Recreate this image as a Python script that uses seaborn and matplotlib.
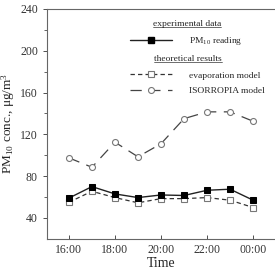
import pandas as pd
import matplotlib.pyplot as plt
import seaborn as sns
from matplotlib.lines import Line2D

# hourly values, 16:00 -> 00:00 (24 = midnight)
hours = [16, 17, 18, 19, 20, 21, 22, 23, 24]
pm10_reading = [59, 70, 63, 59.5, 62, 61.5, 66.5, 67.5, 57]
evaporation_model = [55, 65.5, 59.5, 54.5, 58.5, 58.5, 59.5, 57, 50]
isorropia_model = [97.5, 88.5, 112.5, 98.5, 111, 135, 141.5, 141.5, 132.5]

xtick_pos = [16, 18, 20, 22, 24]
xtick_labels = ["16:00", "18:00", "20:00", "22:00", "00:00"]

df = pd.DataFrame({"hour": hours, "pm10": pm10_reading,
                   "evap": evaporation_model, "iso": isorropia_model})

sns.set_style("ticks")
plt.rcParams['font.family'] = ['Liberation Serif', 'DejaVu Serif']
plt.rcParams['mathtext.fontset'] = 'custom'
plt.rcParams['mathtext.rm'] = 'Liberation Serif'
plt.rcParams['mathtext.it'] = 'Liberation Serif:italic'

fig = plt.figure(figsize=(2.75, 2.69), dpi=100)
ax = fig.add_axes([0.171, 0.112, 0.829, 0.855])

line_col = "#222222"
grey = "#777777"

sns.lineplot(data=df, x="hour", y="iso", ax=ax, color="#444444", lw=0.9,
             linestyle=(0, (9, 6)), marker="o", markersize=4.3,
             markerfacecolor="white", markeredgecolor=grey, markeredgewidth=0.8)
sns.lineplot(data=df, x="hour", y="evap", ax=ax, color="#333333", lw=0.9,
             linestyle=(0, (3.5, 2.5)), marker="s", markersize=4,
             markerfacecolor="white", markeredgecolor=grey, markeredgewidth=0.8)
sns.lineplot(data=df, x="hour", y="pm10", ax=ax, color=line_col, lw=1.0,
             marker="s", markersize=4.6, markerfacecolor="black",
             markeredgecolor="black")

ax.set_xlim(15.05, 24.95)
ax.set_ylim(20, 240)
ax.set_xticks(xtick_pos)
ax.set_xticklabels(xtick_labels)
ax.set_yticks([40, 80, 120, 160, 200, 240])
ax.set_yticks([60, 100, 140, 180, 220], minor=True)
ax.tick_params(axis='both', labelsize=8.5, colors="#333333", length=3, width=0.6)
ax.tick_params(axis='x', direction='in')
ax.tick_params(axis='y', which='minor', length=2, width=0.5)

for side in ['left', 'bottom', 'top']:
    ax.spines[side].set_color("#666666")
    ax.spines[side].set_linewidth(0.8)
ax.spines['right'].set_visible(False)

ax.set_xlabel("Time", fontsize=10, labelpad=1)
ax.set_ylabel(r"PM$_{10}$ conc., μg/m$^3$", fontsize=9.5, labelpad=2)

# legend: headers + two blocks
fs = 6.8
h_pm = Line2D([], [], color=line_col, lw=1.0, marker="s", markersize=4.6,
              markerfacecolor="black", markeredgecolor="black")
h_ev = Line2D([], [], color="#333333", lw=0.9, linestyle=(0, (3.5, 2.5)),
              marker="s", markersize=4, markerfacecolor="white",
              markeredgecolor=grey, markeredgewidth=0.8)
h_is = Line2D([], [], color="#444444", lw=0.9, linestyle=(0, (9, 6)),
              marker="o", markersize=4.3, markerfacecolor="white",
              markeredgecolor=grey, markeredgewidth=0.8)

leg1 = ax.legend([h_pm], [r"PM$_{10}$ reading"], loc="center left",
                 bbox_to_anchor=(0.364, 0.861), frameon=False, fontsize=fs,
                 handlelength=4.4, handletextpad=1.8, borderpad=0, borderaxespad=0)
ax.add_artist(leg1)
ax.legend([h_ev, h_is], ["evaporation model", "ISORROPIA model"], loc="center left",
          bbox_to_anchor=(0.364, 0.678), frameon=False, fontsize=fs,
          handlelength=4.4, handletextpad=1.8, borderpad=0, borderaxespad=0,
          labelspacing=0.7)

headers = []
headers.append(ax.text(0.614, 0.935, "experimental data", transform=ax.transAxes,
                       ha="center", va="center", fontsize=fs))
headers.append(ax.text(0.62, 0.783, "theoretical results", transform=ax.transAxes,
                       ha="center", va="center", fontsize=fs))

# underline the headers
fig.canvas.draw()
inv = ax.transAxes.inverted()
for t in headers:
    bb = t.get_window_extent()
    (x0, y0), (x1, y1) = inv.transform([[bb.x0, bb.y0], [bb.x1, bb.y1]])
    ax.plot([x0, x1], [y0 + 0.002, y0 + 0.002], transform=ax.transAxes,
            color="#333333", lw=0.5, clip_on=False)

fig.savefig("out.png", dpi=100)
